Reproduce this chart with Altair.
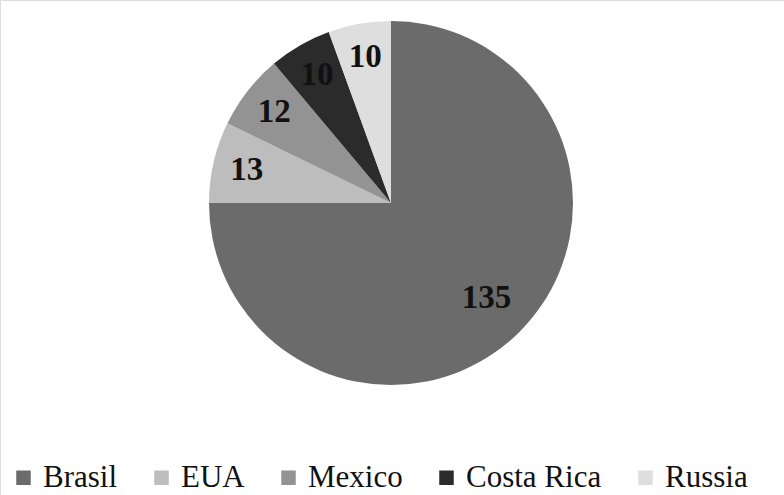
import altair as alt
import pandas as pd

countries = ["Brasil", "EUA", "Mexico", "Costa Rica", "Russia"]
values = [135, 13, 12, 10, 10]
colors = ["#6b6b6b", "#bdbdbd", "#939393", "#2b2b2b", "#dedede"]

df = pd.DataFrame({"country": countries, "value": values, "idx": list(range(len(countries)))})

base = alt.Chart(df).encode(
    theta=alt.Theta("value:Q", stack=True),
    order=alt.Order("idx:Q"),
    x=alt.value(391),
    y=alt.value(203),
)

arcs = base.mark_arc(outerRadius=182).encode(
    color=alt.Color(
        "country:N",
        scale=alt.Scale(domain=countries, range=colors),
        sort=countries,
        legend=alt.Legend(
            title=None,
            orient="none",
            direction="horizontal",
            legendX=8,
            legendY=462,
            symbolType="square",
            symbolSize=210,
            symbolStrokeWidth=0,
            labelFont="Liberation Serif",
            labelFontSize=31,
            labelColor="#111111",
            labelOffset=4,
            columnPadding=28,
            symbolOffset=0,
        ),
    )
)

texts = base.mark_text(
    font="Liberation Serif", fontSize=33, fontWeight="bold", color="#111111",
    baseline="middle", align="center",
    radius=alt.ExprRef("datum.value > 100 ? 135 : 148"),
).encode(
    text="value:Q",
    detail="country:N",
)

chart = (arcs + texts).properties(
    width=784, height=495, padding=0, autosize=alt.AutoSizeParams(type="none")
).configure_view(stroke=None).configure(background="white")

chart.save("out.html", embed_options={"renderer": "svg", "actions": False})
